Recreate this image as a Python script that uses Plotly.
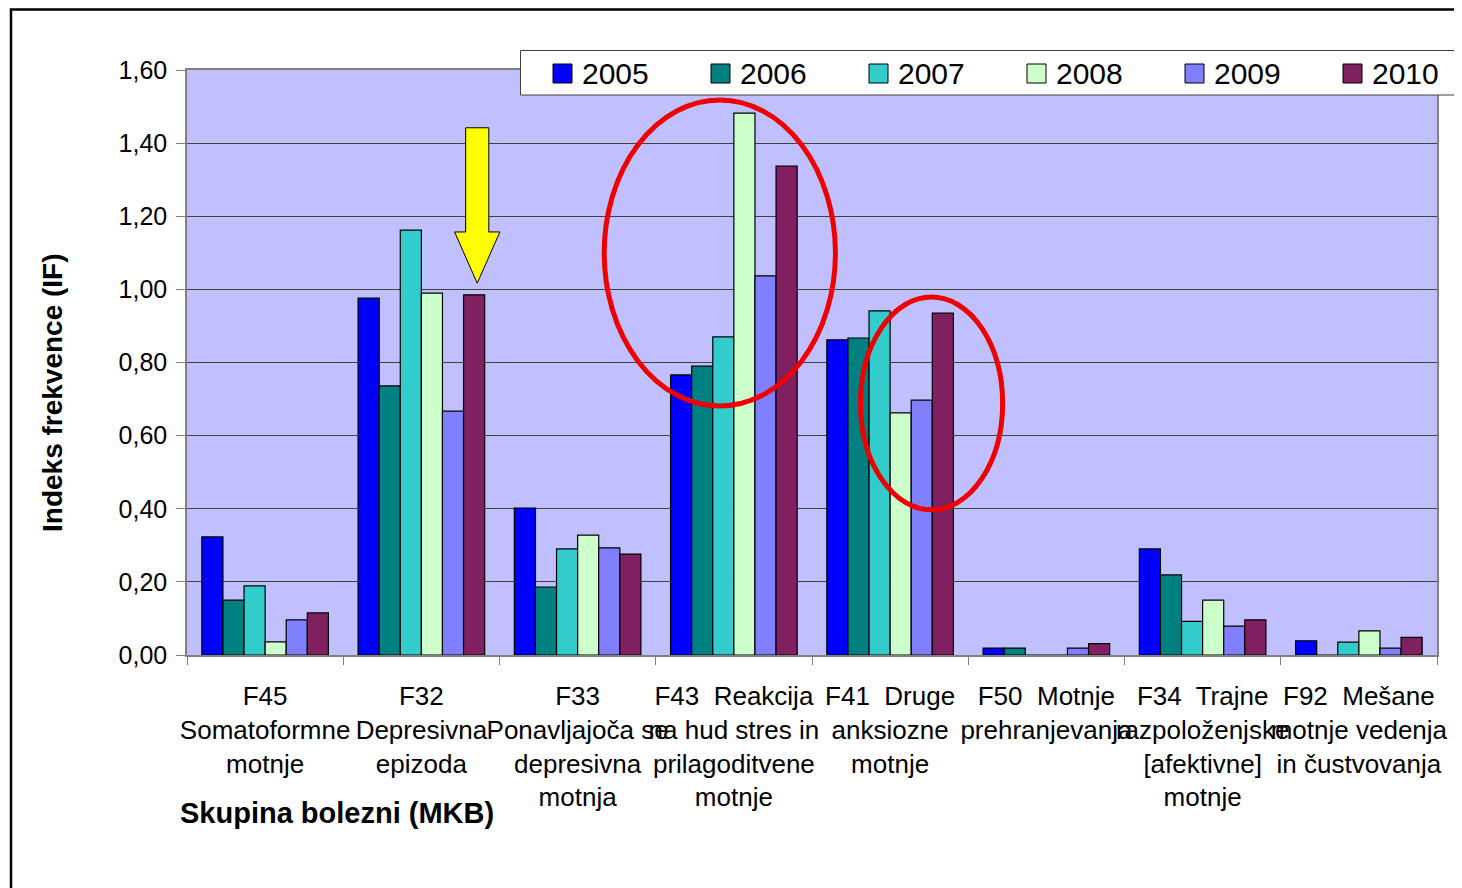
import plotly.graph_objects as go

categories = [
    "F45<br>Somatoformne<br>motnje",
    "F32<br>Depresivna<br>epizoda",
    "F33<br>Ponavljajoča se<br>depresivna<br>motnja",
    "F43  Reakcija<br>na hud stres in<br>prilagoditvene<br>motnje",
    "F41  Druge<br>anksiozne<br>motnje",
    "F50  Motnje<br>prehranjevanja",
    "F34  Trajne<br>razpoloženjske<br>[afektivne]<br>motnje",
    "F92  Mešane<br>motnje vedenja<br>in čustvovanja",
]

years = ["2005", "2006", "2007", "2008", "2009", "2010"]

v2005 = [0.323, 0.976, 0.402, 0.766, 0.862, 0.019, 0.290, 0.039]
v2006 = [0.150, 0.736, 0.186, 0.790, 0.867, 0.019, 0.219, 0.0]
v2007 = [0.189, 1.162, 0.290, 0.870, 0.941, 0.0, 0.092, 0.035]
v2008 = [0.036, 0.990, 0.328, 1.482, 0.662, 0.0, 0.150, 0.066]
v2009 = [0.096, 0.667, 0.293, 1.037, 0.697, 0.019, 0.079, 0.019]
v2010 = [0.115, 0.985, 0.276, 1.337, 0.935, 0.031, 0.096, 0.048]

series = [v2005, v2006, v2007, v2008, v2009, v2010]
colors = ["#0000FF", "#008080", "#33CCCC", "#CCFFCC", "#8080FF", "#802060"]

FONT = "Liberation Sans, Arial, sans-serif"

fig = go.Figure()
for name, vals, col in zip(years, series, colors):
    fig.add_trace(go.Bar(
        x=categories, y=vals, name=name,
        marker=dict(color=col, line=dict(color="black", width=1.2)),
    ))

# page offset of the html body (8px margin)
OFF = 8
FW, FH = 1462 - OFF, 888 - OFF
# plot area in page pixels
L, R, T, B = 187, 1437, 70, 655
W, H = R - L, B - T


def px_x(p):
    return (p - L) / W


def px_y(p):
    return (B - p) / H


# bar geometry used to anchor the arrow above the 2010 bar of F32
bargap = 0.19
bw = (1 - bargap) / len(years)
arrow_x = 1 - (1 - bargap) / 2 + bw * 5.5 + 0.02
tip = v2010[1] + 0.032
head = tip + 0.14
top = tip + 0.425
sw, hw = 0.074, 0.145
arrow_path = (f"M {arrow_x - sw},{top} L {arrow_x + sw},{top} L {arrow_x + sw},{head} "
              f"L {arrow_x + hw},{head} L {arrow_x},{tip} L {arrow_x - hw},{head} "
              f"L {arrow_x - sw},{head} Z")

shapes = [
    # outer chart border
    dict(type="rect", xref="paper", yref="paper",
         x0=px_x(11), x1=px_x(1480), y0=px_y(900), y1=px_y(9.5),
         line=dict(color="black", width=2.5), layer="below"),
    dict(type="path", xref="x", yref="y", path=arrow_path,
         fillcolor="#FFFF00", line=dict(color="black", width=1), layer="above"),
    dict(type="circle", xref="x", yref="y", x0=2.17, x1=3.65, y0=0.681, y1=1.518,
         line=dict(color="#EE0000", width=5), layer="above"),
    dict(type="circle", xref="x", yref="y", x0=3.81, x1=4.72, y0=0.397, y1=0.979,
         line=dict(color="#EE0000", width=5), layer="above"),
    # legend box (drawn by hand so it can run off the right edge like the original)
    dict(type="rect", xref="paper", yref="paper",
         x0=px_x(520.5), x1=px_x(1475), y0=px_y(95), y1=px_y(50.5),
         fillcolor="white", line=dict(color="#404040", width=1), layer="above"),
]

annotations = [
    dict(text="<b>Indeks frekvence (IF)</b>", xref="paper", yref="paper",
         x=px_x(52), y=px_y(393), xanchor="center", yanchor="middle",
         textangle=-90, showarrow=False,
         font=dict(size=28, color="black", family=FONT)),
    dict(text="<b>Skupina bolezni (MKB)</b>", xref="paper", yref="paper",
         x=px_x(178), y=px_y(813), xanchor="left", yanchor="middle", showarrow=False,
         font=dict(size=29, color="black", family=FONT)),
]

# legend entries
step = 158
for i, (name, col) in enumerate(zip(years, colors)):
    sx = 553 + i * step
    shapes.append(dict(type="rect", xref="paper", yref="paper",
                       x0=px_x(sx), x1=px_x(sx + 19), y0=px_y(83), y1=px_y(64),
                       fillcolor=col, line=dict(color="black", width=1), layer="above"))
    annotations.append(dict(text=name, xref="paper", yref="paper",
                            x=px_x(sx + 27), y=px_y(74), xanchor="left", yanchor="middle",
                            showarrow=False, font=dict(size=30, color="black", family=FONT)))

fig.update_layout(
    width=FW, height=FH,
    margin=dict(l=L - OFF, r=1462 - R, t=T - OFF, b=888 - B),
    paper_bgcolor="white",
    plot_bgcolor="#C0C0FF",
    barmode="group", bargap=bargap, bargroupgap=0,
    separators=",.",
    font=dict(family=FONT, size=26, color="black"),
    showlegend=False,
    xaxis=dict(
        type="category", showline=True, linecolor="#808080", linewidth=1.5,
        ticks="outside", ticklen=8, tickcolor="#808080", tickson="boundaries",
        tickangle=0, showgrid=False, mirror=True, automargin=False,
        ticklabelstandoff=17,
        tickfont=dict(size=26, family=FONT),
    ),
    yaxis=dict(
        range=[0, 1.6], dtick=0.2, tickformat=".2f",
        showline=True, linecolor="#808080", linewidth=1.5,
        ticks="outside", ticklen=9, tickcolor="#808080",
        showgrid=True, gridcolor="#404040", gridwidth=1, zeroline=False,
        mirror=True, automargin=False, ticklabelstandoff=4,
        tickfont=dict(size=25, family=FONT),
    ),
    shapes=shapes,
    annotations=annotations,
)

fig.write_html("out.html")
